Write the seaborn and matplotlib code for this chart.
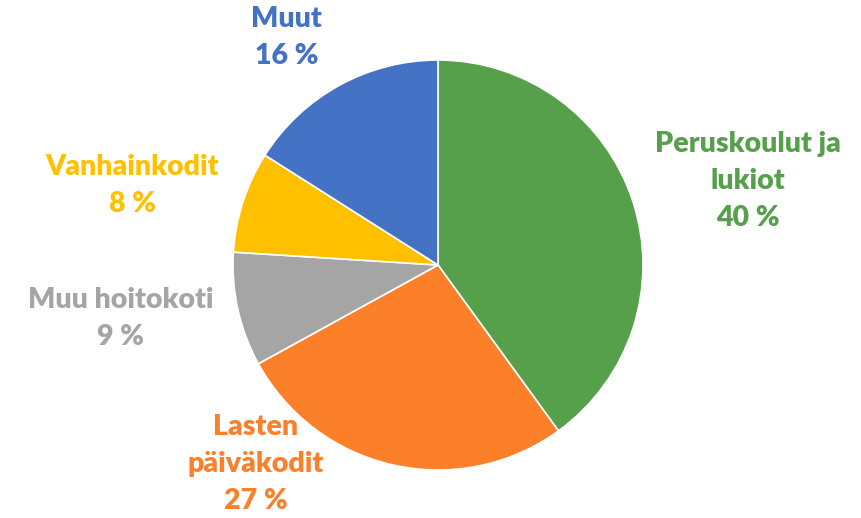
import matplotlib
matplotlib.use("Agg")
import matplotlib.pyplot as plt
import seaborn as sns

# Data (clockwise from 12 o'clock)
categories = ["Peruskoulut ja\nlukiot", "Lasten\npäiväkodit", "Muu hoitokoti", "Vanhainkodit", "Muut"]
shares = [40, 27, 9, 8, 16]
colors = ["#57A04B", "#FC7F2A", "#A5A5A5", "#FFC000", "#4472C4"]

# Label centres in units of the pie radius (Excel "best fit" placement)
label_pos = [(1.51, 0.41), (-0.89, -0.97), (-1.55, -0.26), (-1.49, 0.39), (-0.74, 1.11)]

sns.set_style("white")
plt.rcParams['font.family'] = ['Lato', 'DejaVu Sans']

fig = plt.figure(figsize=(8.61, 5.18), dpi=100)
# square axes: pie centre at (438, 265) px, radius 205 px
ax = fig.add_axes([(438 - 205) / 861, (518 - 265 - 205) / 518, 410 / 861, 410 / 518])

wedges, _ = ax.pie(shares, colors=colors, startangle=90, counterclock=False,
                   radius=1, wedgeprops=dict(edgecolor='white', linewidth=1.2))
ax.set_xlim(-1, 1)
ax.set_ylim(-1, 1)
ax.set_aspect('equal')
ax.axis('off')

for name, val, col, (x, y) in zip(categories, shares, colors, label_pos):
    ax.text(x, y, f"{name}\n{val} %", ha='center', va='center', color=col,
            fontsize=20.5, fontweight='heavy', linespacing=1.52)

plt.savefig("out.png", dpi=100)
plt.close()
